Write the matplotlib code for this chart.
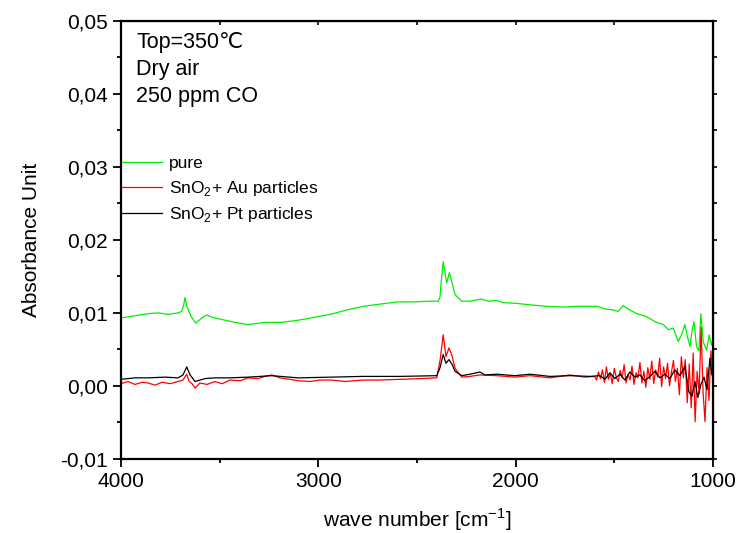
import matplotlib
matplotlib.use("Agg")
import matplotlib.pyplot as plt
from matplotlib.ticker import MultipleLocator

plt.rcParams['font.family'] = ['Liberation Sans', 'DejaVu Sans']
plt.rcParams['mathtext.fontset'] = 'custom'
plt.rcParams['mathtext.rm'] = 'Liberation Sans'

# pure SnO2
green_wn = [4000, 3862, 3811, 3760, 3710, 3692, 3683, 3676, 3667, 3645, 3621, 3591, 3566, 3524, 3473,
            3422, 3355, 3270, 3186, 3101, 3017, 2924, 2856, 2772, 2687, 2603, 2519, 2434, 2392, 2383,
            2378, 2367, 2358, 2349, 2336, 2324, 2307, 2273, 2231, 2172, 2139, 2096, 2063, 1995, 1927,
            1843, 1759, 1674, 1589, 1539, 1505, 1480, 1455, 1421, 1387, 1336, 1294, 1252, 1226, 1201,
            1176, 1159, 1142, 1130, 1116, 1106, 1096, 1083, 1071, 1061, 1049, 1032, 1019, 1007, 1000]
green_abs = [0.0093, 0.0099, 0.0100, 0.0098, 0.0100, 0.0102, 0.0110, 0.0121, 0.0109, 0.0095, 0.0086,
             0.0093, 0.0097, 0.0093, 0.0090, 0.0087, 0.0084, 0.0087, 0.0087, 0.0090, 0.0094, 0.0099,
             0.0104, 0.0109, 0.0112, 0.0115, 0.0115, 0.0116, 0.0116, 0.0122, 0.0140, 0.0170, 0.0155,
             0.0141, 0.0155, 0.0143, 0.0125, 0.0116, 0.0116, 0.0119, 0.0116, 0.0117, 0.0114, 0.0113,
             0.0111, 0.0109, 0.0108, 0.0109, 0.0109, 0.0105, 0.0104, 0.0102, 0.0110, 0.0104, 0.0099,
             0.0095, 0.0088, 0.0084, 0.0077, 0.0079, 0.0061, 0.0070, 0.0084, 0.0068, 0.0054, 0.0075,
             0.0088, 0.0054, 0.0048, 0.0099, 0.0060, 0.0049, 0.0070, 0.0056, 0.0062]

# SnO2 + Au particles
red_wn = [4000, 3965, 3929, 3894, 3863, 3828, 3792, 3752, 3711, 3686, 3667, 3655, 3640, 3625, 3600,
          3564, 3524, 3488, 3448, 3397, 3356, 3306, 3270, 3236, 3194, 3144, 3101, 3042, 2992, 2932,
          2865, 2774, 2687, 2586, 2485, 2400, 2383, 2367, 2353, 2338, 2323, 2307, 2273, 2231, 2181,
          2096, 2003, 1927, 1826, 1725, 1650,
          1600, 1590, 1580, 1570, 1560, 1550, 1540, 1530, 1520, 1510, 1500, 1490, 1480, 1470, 1460,
          1450, 1440, 1430, 1420, 1410, 1400, 1390, 1380, 1370, 1360, 1350, 1340, 1330, 1320, 1310,
          1300, 1290, 1280, 1270, 1260, 1250, 1240, 1230, 1220, 1210, 1200, 1190, 1180, 1170, 1160,
          1150, 1140, 1130, 1120, 1110, 1100, 1090, 1080, 1070, 1060, 1050, 1040, 1030, 1020, 1010,
          1000]
red_abs = [0.0003, 0.0006, 0.0002, 0.0005, 0.0004, 0.0001, 0.0005, 0.0003, 0.0006, 0.0008, 0.0016,
           0.0006, 0.0003, -0.0003, 0.0004, 0.0002, 0.0006, 0.0003, 0.0008, 0.0007, 0.0011, 0.0010,
           0.0013, 0.0015, 0.0011, 0.0009, 0.0007, 0.0006, 0.0008, 0.0008, 0.0006, 0.0008, 0.0008,
           0.0009, 0.0010, 0.0011, 0.0035, 0.0070, 0.0040, 0.0052, 0.0042, 0.0024, 0.0012, 0.0013,
           0.0015, 0.0014, 0.0012, 0.0014, 0.0011, 0.0015, 0.0012,
           0.0013, 0.0008, 0.0019, 0.0010, 0.0022, 0.0005, 0.0026, 0.0009, 0.0017, 0.0003, 0.0024,
           0.0012, 0.0006, 0.0021, 0.0011, 0.0029, 0.0004, 0.0016, 0.0008, 0.0027, 0.0002, 0.0018,
           0.0011, 0.0032, 0.0004, 0.0020, -0.0002, 0.0025, 0.0009, 0.0034, 0.0003, 0.0022, 0.0012,
           0.0038, -0.0001, 0.0026, 0.0010, 0.0031, 0.0000, 0.0019, 0.0035, 0.0006, 0.0024, -0.0012,
           0.0040, 0.0011, 0.0036, -0.0023, 0.0030, -0.0030, 0.0045, -0.0049, 0.0020, -0.0010, 0.0080,
           -0.0008, -0.0049, 0.0025, -0.0020, 0.0048, 0.0005]

# SnO2 + Pt particles
black_wn = [4000, 3929, 3863, 3777, 3711, 3686, 3667, 3650, 3625, 3574, 3524, 3448, 3356, 3236, 3101,
            2932, 2774, 2586, 2400, 2383, 2367, 2353, 2338, 2323, 2307, 2273, 2231, 2181, 2155, 2096,
            2003, 1927, 1826, 1725, 1623, 1573, 1547, 1522, 1497, 1471, 1446, 1421, 1395, 1370, 1345,
            1319, 1294, 1269, 1243, 1218, 1193, 1167, 1142, 1122, 1106, 1091, 1076, 1061, 1045, 1030,
            1015, 1005, 1000]
black_abs = [0.0009, 0.0011, 0.0011, 0.0012, 0.0011, 0.0015, 0.0026, 0.0015, 0.0006, 0.0010, 0.0011,
             0.0011, 0.0012, 0.0014, 0.0011, 0.0012, 0.0013, 0.0013, 0.0014, 0.0025, 0.0043, 0.0031,
             0.0036, 0.0030, 0.0020, 0.0014, 0.0016, 0.0019, 0.0015, 0.0016, 0.0014, 0.0016, 0.0013,
             0.0014, 0.0013, 0.0014, 0.0009, 0.0018, 0.0010, 0.0016, 0.0008, 0.0019, 0.0012, 0.0015,
             0.0007, 0.0013, 0.0020, 0.0011, 0.0016, 0.0010, 0.0022, 0.0014, 0.0027, -0.0008, -0.0014,
             0.0006, -0.0016, 0.0002, 0.0012, -0.0005, 0.0038, 0.0015, 0.0030]

labels = ['pure', 'SnO$_2$+ Au particles', 'SnO$_2$+ Pt particles']
colors = ['#00ee00', '#ff0000', '#000000']

x_ticks = [4000, 3000, 2000, 1000]
y_ticks = [-0.01, 0.0, 0.01, 0.02, 0.03, 0.04, 0.05]
y_ticklabels = ['-0,01', '0,00', '0,01', '0,02', '0,03', '0,04', '0,05']
notes = ['Top=350\u2103', 'Dry air', '250 ppm CO']

fig = plt.figure(figsize=(7.38, 5.33), dpi=100)
ax = fig.add_axes([0.164, 0.139, 0.802, 0.822])

ax.plot(green_wn, green_abs, color=colors[0], lw=0.9, label=labels[0])
ax.plot(red_wn, red_abs, color=colors[1], lw=0.9, label=labels[1])
ax.plot(black_wn, black_abs, color=colors[2], lw=0.9, label=labels[2])

ax.set_xlim(4000, 1000)
ax.set_ylim(-0.01, 0.05)
ax.set_xticks(x_ticks)
ax.set_xticklabels([str(t) for t in x_ticks])
ax.xaxis.set_minor_locator(MultipleLocator(500))
ax.set_yticks(y_ticks)
ax.set_yticklabels(y_ticklabels)
ax.yaxis.set_minor_locator(MultipleLocator(0.005))
ax.tick_params(which='major', direction='out', length=6, width=1.3, labelsize=15)
ax.tick_params(which='minor', direction='out', length=3, width=1.3)

for s in ax.spines.values():
    s.set_linewidth(1.6)

# mirror ticks on top and right
top = ax.secondary_xaxis('top')
top.set_xticks(x_ticks)
top.xaxis.set_minor_locator(MultipleLocator(500))
top.tick_params(which='both', direction='in', length=3, width=1.2, labeltop=False)
right = ax.secondary_yaxis('right')
right.set_yticks(y_ticks)
right.yaxis.set_minor_locator(MultipleLocator(0.005))
right.tick_params(which='both', direction='out', length=3, width=1.2, labelright=False)

ax.set_xlabel('wave number [cm$^{-1}$]', fontsize=15, labelpad=11)
ax.set_ylabel('Absorbance Unit', fontsize=15, labelpad=14)

for i, t in enumerate(notes):
    ax.text(0.026, 0.975 - i * 0.062, t, transform=ax.transAxes, fontsize=15.5, va='top', ha='left')

ax.legend(loc='upper left', bbox_to_anchor=(-0.01, 0.708), frameon=False, fontsize=12.5,
          handlelength=2.3, handletextpad=0.4, labelspacing=0.45, borderaxespad=0)

fig.savefig('out.png', dpi=100)
